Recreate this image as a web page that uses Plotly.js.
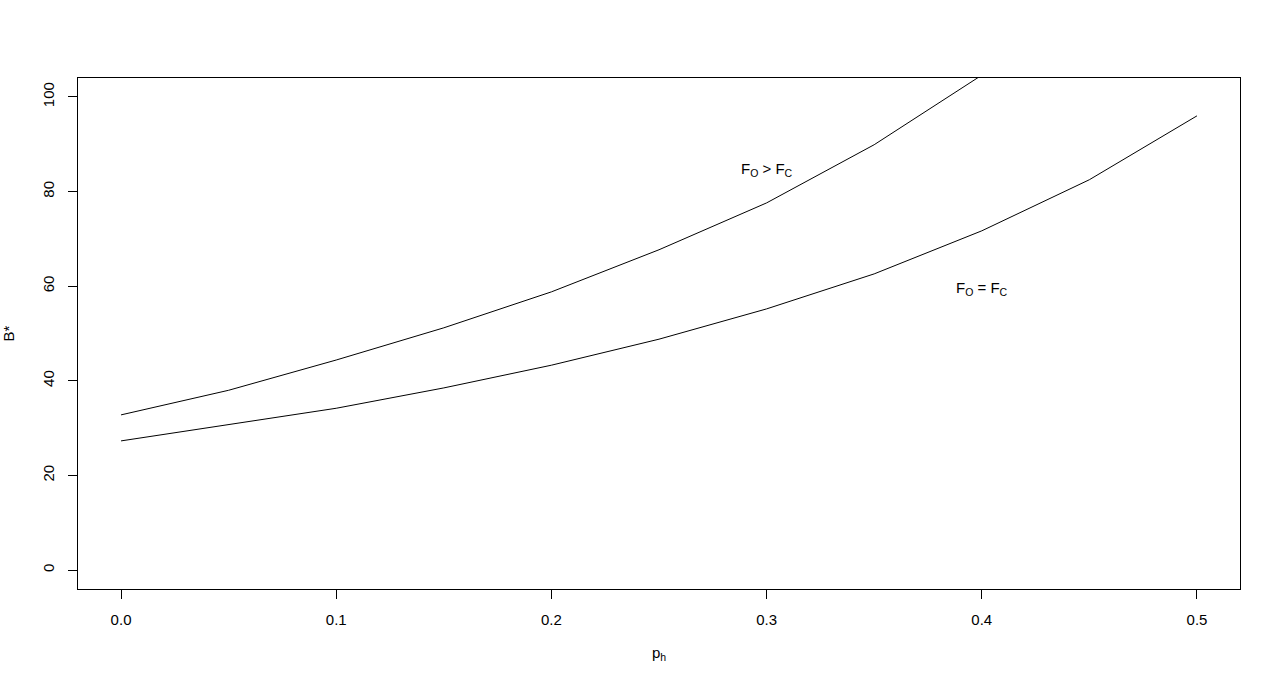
<!DOCTYPE html>
<html><head><meta charset="utf-8">
<script src="https://cdn.plot.ly/plotly-3.0.1.min.js"></script>
<style>body{margin:0;background:#fff}#c{width:1280px;height:687px}</style>
</head><body><div id="c"></div>
<script>
const ph = [0.0, 0.05, 0.1, 0.15, 0.2, 0.25, 0.3, 0.35, 0.4, 0.45];
const bUpper = [32.8, 38.0, 44.4, 51.2, 58.8, 67.7, 77.6, 89.9, 104.6, 122.0];
const phLower = [0.0, 0.05, 0.1, 0.15, 0.2, 0.25, 0.3, 0.35, 0.4, 0.45, 0.5];
const bLower = [27.3, 30.7, 34.2, 38.5, 43.3, 48.8, 55.2, 62.6, 71.7, 82.5, 96.0];
const xTicks = [0, 0.1, 0.2, 0.3, 0.4, 0.5];
const xTickText = ["0.0", "0.1", "0.2", "0.3", "0.4", "0.5"];
const yTicks = [0, 20, 40, 60, 80, 100];
const labels = [
  {x: 0.30, y: 84.6, text: "F<sub>O</sub> > F<sub>C</sub>"},
  {x: 0.40, y: 59.6, text: "F<sub>O</sub> = F<sub>C</sub>"}
];
const font = {family: "Liberation Sans, Arial, sans-serif", size: 15, color: "#000"};
const traces = [
  {x: ph, y: bUpper, mode: "lines", line: {color: "#000", width: 1}, hoverinfo: "none"},
  {x: phLower, y: bLower, mode: "lines", line: {color: "#000", width: 1}, hoverinfo: "none"}
];
const layout = {
  width: 1280, height: 687, showlegend: false,
  paper_bgcolor: "#fff", plot_bgcolor: "#fff", font: font,
  margin: {l: 78, r: 40, t: 78, b: 98},
  xaxis: {range: [-0.02, 0.52], tickvals: xTicks, ticktext: xTickText, ticks: "outside", ticklen: 9,
    ticklabelstandoff: 8,
    tickcolor: "#000", showgrid: false, zeroline: false, showline: true, mirror: true, linecolor: "#000", linewidth: 1,
    title: {text: "p<sub>h</sub>", font: font, standoff: 20}, tickfont: font},
  yaxis: {range: [-4, 104], tickvals: yTicks, ticks: "outside", ticklen: 9, tickangle: -90,
    ticklabelstandoff: 8,
    tickcolor: "#000", showgrid: false, zeroline: false, showline: true, mirror: true, linecolor: "#000", linewidth: 1,
    title: {text: "B*", font: font, standoff: 22}, tickfont: font},
  annotations: labels.map(l => ({x: l.x, y: l.y, text: l.text, showarrow: false, font: font, xanchor: "center", yanchor: "middle"}))
};
Plotly.newPlot("c", traces, layout, {displayModeBar: false, staticPlot: true});
</script></body></html>
